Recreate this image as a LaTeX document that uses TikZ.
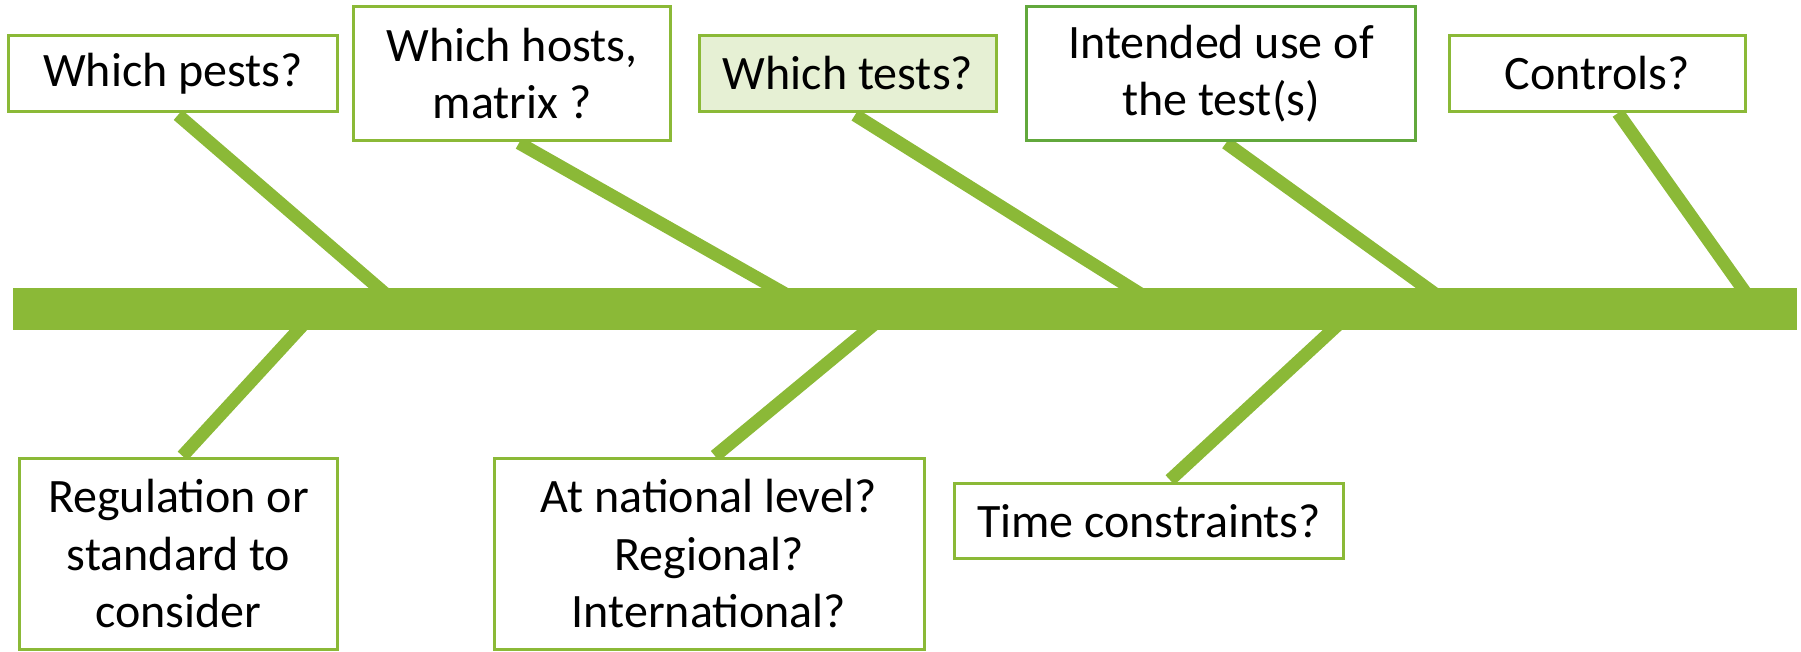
\documentclass[tikz,border=0pt]{standalone}
\usepackage{fontspec}
\setmainfont{Carlito}
\definecolor{fgreen}{RGB}{139,185,55}
\definecolor{dgreen}{RGB}{98,168,60}
\definecolor{lgreen}{RGB}{230,240,212}
\begin{document}
\begin{tikzpicture}[x=1pt,y=-1pt,
  box/.style={draw=fgreen, line width=3pt, fill=white, align=center, inner sep=0pt,
    font=\fontsize{48}{57.5}\selectfont},
  bone/.style={draw=fgreen, line width=13pt},
  spinebar/.style={fill=fgreen, inner sep=0pt, minimum width=1784pt, minimum height=42pt}]
\useasboundingbox (0,0) rectangle (1801,652);
% bone end points
\coordinate (t1) at (178,115);   \coordinate (s1) at (403,309);
\coordinate (t2) at (519,143);   \coordinate (s2) at (812,309);
\coordinate (t3) at (855,115);   \coordinate (s3) at (1164.5,309);
\coordinate (t4) at (1226,143);  \coordinate (s4) at (1456,309);
\coordinate (t5) at (1618,113);  \coordinate (s5) at (1757,309);
\coordinate (s6) at (317.6,309); \coordinate (t6) at (182.5,456);
\coordinate (s7) at (892.7,309); \coordinate (t7) at (715,456);
\coordinate (s8) at (1355,309);  \coordinate (t8) at (1170,480);
% bones
\draw[bone] (t1) -- (s1);
\draw[bone] (t2) -- (s2);
\draw[bone] (t3) -- (s3);
\draw[bone] (t4) -- (s4);
\draw[bone] (t5) -- (s5);
\draw[bone] (s6) -- (t6);
\draw[bone] (s7) -- (t7);
\draw[bone] (s8) -- (t8);
% spine
\node[spinebar] (spine) at (905,309) {};
% top boxes
\node[box, minimum width=329pt, minimum height=76pt] (pests) at (173,73.5) {Which pests?};
\node[box, minimum width=317pt, minimum height=134pt] (hosts) at (512,73.5) {Which hosts,\\matrix ?};
\node[box, fill=lgreen, minimum width=297pt, minimum height=76pt] (tests) at (848,73.5) {Which tests?};
\node[box, draw=dgreen, minimum width=389pt, minimum height=134pt] (use) at (1221,73.5) {Intended use of\\the test(s)};
\node[box, minimum width=296pt, minimum height=76pt] (controls) at (1597.5,73.5) {Controls?};
% bottom boxes
\node[box, minimum width=318pt, minimum height=191pt] (reg) at (178.5,554) {Regulation or\\standard to\\consider};
\node[box, minimum width=430pt, minimum height=191pt] (nat) at (709,554) {At national level?\\Regional?\\International?};
\node[box, minimum width=389pt, minimum height=75pt] (time) at (1149,521) {Time constraints?};
\end{tikzpicture}
\end{document}
